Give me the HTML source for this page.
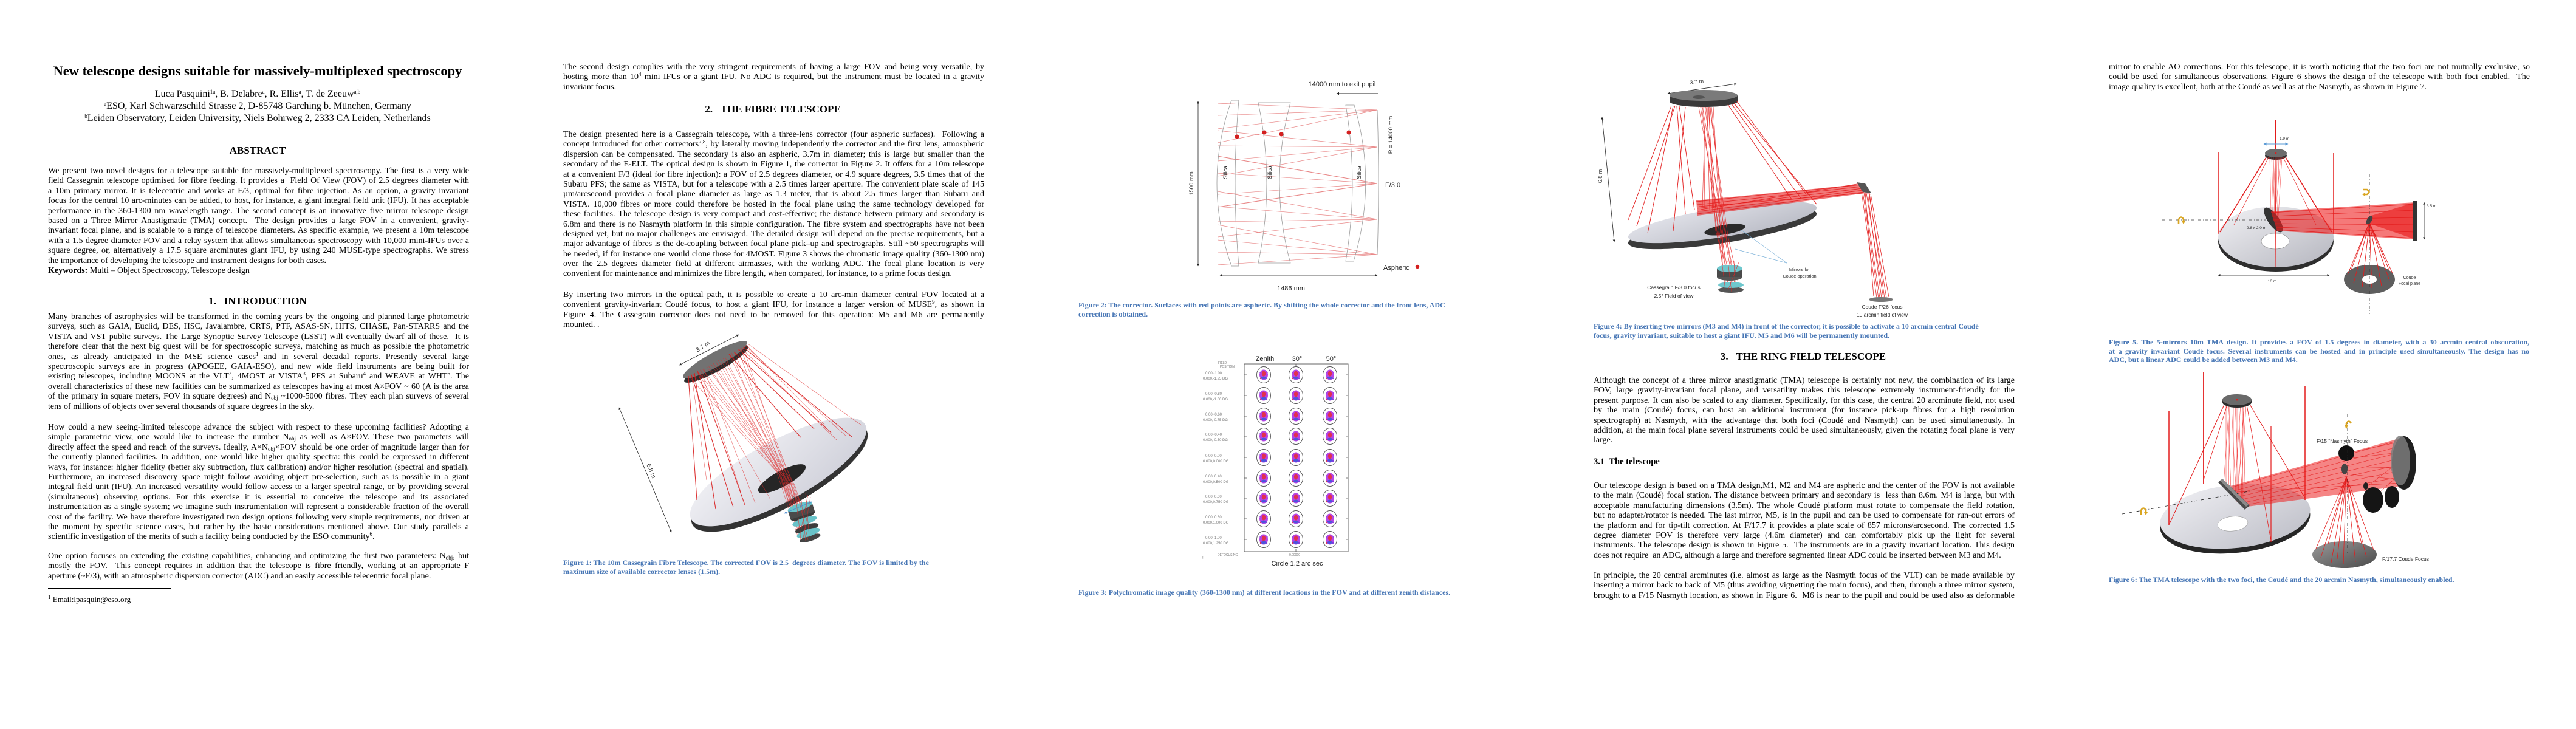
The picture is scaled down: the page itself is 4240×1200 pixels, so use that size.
<!DOCTYPE html>
<html><head><meta charset="utf-8">
<style>
*{margin:0;padding:0;box-sizing:border-box}
html,body{width:4240px;height:1200px;overflow:hidden;background:#fff}
.pg{position:absolute;top:0;width:848px;height:1200px;font-family:"Liberation Serif","Times New Roman",serif;color:#000}
.p{position:absolute;left:79px;width:693px;font-size:14px;line-height:16.4px}
.p div{height:16.4px;overflow:hidden;text-align:justify;text-align-last:justify}
.p div.e{text-align-last:left}
sup{font-size:9px;line-height:0;vertical-align:5px}
sub{font-size:9px;line-height:0;vertical-align:-2px}
.h{position:absolute;left:0;width:848px;text-align:center;font-weight:bold;font-size:17px;line-height:20px}
.cap{position:absolute;left:79px;width:720px;font-weight:bold;font-size:12px;line-height:14.6px;color:#4776b5;white-space:nowrap}
.cj{position:absolute;left:79px;width:692px;font-weight:bold;font-size:12px;line-height:14.6px;color:#4776b5}
.cj div{height:14.6px;overflow:hidden;text-align:justify;text-align-last:justify}
.cj div.e{text-align-last:left}
svg.f{position:absolute;left:0;top:0}
svg text{font-family:"Liberation Sans",sans-serif}
</style></head><body>

<!-- ================= PAGE 1 ================= -->
<div class="pg" style="left:0">
<div style="position:absolute;top:104px;left:0;width:848px;text-align:center;font-weight:bold;font-size:22.5px;line-height:26px">New telescope designs suitable for massively-multiplexed spectroscopy</div>
<div style="position:absolute;top:145px;left:0;width:848px;text-align:center;font-size:16px;line-height:20px">Luca Pasquini<sup>1a</sup>, B. Delabre<sup>a</sup>, R. Ellis<sup>a</sup>, T. de Zeeuw<sup>a,b</sup><br><sup>a</sup>ESO, Karl Schwarzschild Strasse 2, D-85748 Garching b. München, Germany<br><sup>b</sup>Leiden Observatory, Leiden University, Niels Bohrweg 2, 2333 CA Leiden, Netherlands</div>
<div class="h" style="top:238px">ABSTRACT</div>
<div class="p" style="top:274px">
<div>We present two novel designs for a telescope suitable for massively-multiplexed spectroscopy. The first is a very wide</div>
<div>field Cassegrain telescope optimised for fibre feeding. It provides a &nbsp;Field Of View (FOV) of 2.5 degrees diameter with</div>
<div>a 10m primary mirror. It is telecentric and works at F/3, optimal for fibre injection. As an option, a gravity invariant</div>
<div>focus for the central 10 arc-minutes can be added, to host, for instance, a giant integral field unit (IFU). It has acceptable</div>
<div>performance in the 360-1300 nm wavelength range. The second concept is an innovative five mirror telescope design</div>
<div>based on a Three Mirror Anastigmatic (TMA) concept. &nbsp;The design provides a large FOV in a convenient, gravity-</div>
<div>invariant focal plane, and is scalable to a range of telescope diameters. As specific example, we present a 10m telescope</div>
<div>with a 1.5 degree diameter FOV and a relay system that allows simultaneous spectroscopy with 10,000 mini-IFUs over a</div>
<div>square degree, or, alternatively a 17.5 square arcminutes giant IFU, by using 240 MUSE-type spectrographs. We stress</div>
<div class="e">the importance of developing the telescope and instrument designs for both cases<b>.</b></div>
<div class="e"><b>Keywords:</b> Multi – Object Spectroscopy, Telescope design</div>
</div>
<div class="h" style="top:486px">1.&nbsp;&nbsp;&nbsp;INTRODUCTION</div>
<div class="p" style="top:514px">
<div>Many branches of astrophysics will be transformed in the coming years by the ongoing and planned large photometric</div>
<div>surveys, such as GAIA, Euclid, DES, HSC, Javalambre, CRTS, PTF, ASAS-SN, HITS, CHASE, Pan-STARRS and the</div>
<div>VISTA and VST public surveys. The Large Synoptic Survey Telescope (LSST) will eventually dwarf all of these. &nbsp;It is</div>
<div>therefore clear that the next big quest will be for spectroscopic surveys, matching as much as possible the photometric</div>
<div>ones, as already anticipated in the MSE science cases<sup>1</sup> and in several decadal reports. Presently several large</div>
<div>spectroscopic surveys are in progress (APOGEE, GAIA-ESO), and new wide field instruments are being built for</div>
<div>existing telescopes, including MOONS at the VLT<sup>2</sup>, 4MOST at VISTA<sup>3</sup>, PFS at Subaru<sup>4</sup> and WEAVE at WHT<sup>5</sup>. The</div>
<div>overall characteristics of these new facilities can be summarized as telescopes having at most A×FOV ~ 60 (A is the area</div>
<div>of the primary in square meters, FOV in square degrees) and N<sub>obj</sub> ~1000-5000 fibres. They each plan surveys of several</div>
<div class="e">tens of millions of objects over several thousands of square degrees in the sky.</div>
</div>
<div class="p" style="top:696px">
<div>How could a new seeing-limited telescope advance the subject with respect to these upcoming facilities? Adopting a</div>
<div>simple parametric view, one would like to increase the number N<sub>obj</sub> as well as A×FOV. These two parameters will</div>
<div>directly affect the speed and reach of the surveys. Ideally, A×N<sub>obj</sub>×FOV should be one order of magnitude larger than for</div>
<div>the currently planned facilities. In addition, one would like higher quality spectra: this could be expressed in different</div>
<div>ways, for instance: higher fidelity (better sky subtraction, flux calibration) and/or higher resolution (spectral and spatial).</div>
<div>Furthermore, an increased discovery space might follow avoiding object pre-selection, such as is possible in a giant</div>
<div>integral field unit (IFU). An increased versatility would follow access to a larger spectral range, or by providing several</div>
<div>(simultaneous) observing options. For this exercise it is essential to conceive the telescope and its associated</div>
<div>instrumentation as a single system; we imagine such instrumentation will represent a considerable fraction of the overall</div>
<div>cost of the facility. We have therefore investigated two design options following very simple requirements, not driven at</div>
<div>the moment by specific science cases, but rather by the basic considerations mentioned above. Our study parallels a</div>
<div class="e">scientific investigation of the merits of such a facility being conducted by the ESO community<sup>6</sup>.</div>
</div>
<div class="p" style="top:908px">
<div>One option focuses on extending the existing capabilities, enhancing and optimizing the first two parameters: N<sub>obj</sub>, but</div>
<div>mostly the FOV. &nbsp;This concept requires in addition that the telescope is fibre friendly, working at an appropriate F</div>
<div class="e">aperture (~F/3), with an atmospheric dispersion corrector (ADC) and an easily accessible telecentric focal plane.</div>
</div>
<div style="position:absolute;left:79px;top:968px;width:203px;border-top:1px solid #000"></div>
<div style="position:absolute;left:79px;top:979px;font-size:13px;line-height:16px"><sup>1</sup> Email:lpasquin@eso.org</div>
</div>

<!-- ================= PAGE 2 ================= -->
<div class="pg" style="left:848px">
<div class="p" style="top:103px">
<div>The second design complies with the very stringent requirements of having a large FOV and being very versatile, by</div>
<div>hosting more than 10<sup>4</sup> mini IFUs or a giant IFU. No ADC is required, but the instrument must be located in a gravity</div>
<div class="e">invariant focus.</div>
</div>
<div class="h" style="top:170px">2.&nbsp;&nbsp;&nbsp;THE FIBRE TELESCOPE</div>
<div class="p" style="top:214px">
<div>The design presented here is a Cassegrain telescope, with a three-lens corrector (four aspheric surfaces). &nbsp;Following a</div>
<div>concept introduced for other correctors<sup>7,8</sup>, by laterally moving independently the corrector and the first lens, atmospheric</div>
<div>dispersion can be compensated. The secondary is also an aspheric, 3.7m in diameter; this is large but smaller than the</div>
<div>secondary of the E-ELT. The optical design is shown in Figure 1, the corrector in Figure 2. It offers for a 10m telescope</div>
<div>at a convenient F/3 (ideal for fibre injection): a FOV of 2.5 degrees diameter, or 4.9 square degrees, 3.5 times that of the</div>
<div>Subaru PFS; the same as VISTA, but for a telescope with a 2.5 times larger aperture. The convenient plate scale of 145</div>
<div>µm/arcsecond provides a focal plane diameter as large as 1.3 meter, that is about 2.5 times larger than Subaru and</div>
<div>VISTA. 10,000 fibres or more could therefore be hosted in the focal plane using the same technology developed for</div>
<div>these facilities. The telescope design is very compact and cost-effective; the distance between primary and secondary is</div>
<div>6.8m and there is no Nasmyth platform in this simple configuration. The fibre system and spectrographs have not been</div>
<div>designed yet, but no major challenges are envisaged. The detailed design will depend on the precise requirements, but a</div>
<div>major advantage of fibres is the de-coupling between focal plane pick–up and spectrographs. Still ~50 spectrographs will</div>
<div>be needed, if for instance one would clone those for 4MOST. Figure 3 shows the chromatic image quality (360-1300 nm)</div>
<div>over the 2.5 degrees diameter field at different airmasses, with the working ADC. The focal plane location is very</div>
<div class="e">convenient for maintenance and minimizes the fibre length, when compared, for instance, to a prime focus design.</div>
</div>
<div class="p" style="top:478px">
<div>By inserting two mirrors in the optical path, it is possible to create a 10 arc-min diameter central FOV located at a</div>
<div>convenient gravity-invariant Coudé focus, to host a giant IFU, for instance a larger version of MUSE<sup>9</sup>, as shown in</div>
<div>Figure 4. The Cassegrain corrector does not need to be removed for this operation: M5 and M6 are permanently</div>
<div class="e">mounted. .</div>
</div>
<svg class="f" width="848" height="1200" viewBox="0 0 848 1200">
<defs>
<marker id="a2" viewBox="0 0 10 10" refX="9" refY="5" markerWidth="5" markerHeight="5" orient="auto-start-reverse"><path d="M0,0 L10,5 L0,10 z" fill="#222"/></marker>
<marker id="b2" viewBox="0 0 10 10" refX="9" refY="5" markerWidth="5" markerHeight="5" orient="auto-start-reverse"><path d="M0,0 L10,5 L0,10 z" fill="#4a8ad0"/></marker>
<linearGradient id="g2" x1="0" y1="0" x2="1" y2="1"><stop offset="0" stop-color="#f2f2f6"/><stop offset="1" stop-color="#cdced8"/></linearGradient>
</defs>
<line x1="270" y1="601" x2="368" y2="551" stroke="#222" stroke-width="0.8" marker-start="url(#a2)" marker-end="url(#a2)"/>
<text transform="translate(300,580) rotate(-33)" font-size="10" fill="#333">3.7 m</text>
<ellipse cx="331" cy="599" rx="60" ry="12" fill="#2c2c2c" transform="rotate(-29 331 599)"/>
<ellipse cx="329" cy="592" rx="60" ry="12" fill="#727272" transform="rotate(-29 329 592)"/>
<line x1="171" y1="671" x2="257" y2="876" stroke="#222" stroke-width="0.8" marker-start="url(#a2)" marker-end="url(#a2)"/>
<text transform="translate(216,765) rotate(67)" font-size="10" fill="#333">6.8 m</text>
<ellipse cx="433" cy="777" rx="163" ry="50" fill="#333" transform="translate(2,9) rotate(-28.5 433 777)"/>
<ellipse cx="433" cy="777" rx="163" ry="50" fill="url(#g2)" transform="rotate(-28.5 433 777)"/>
<ellipse cx="439" cy="788" rx="44" ry="13" fill="#262626" transform="rotate(-28.5 439 788)"/>
<g stroke="#e02a2a" stroke-width="0.6" opacity="0.75" fill="none">
<polyline points="285,619 430,776 466,885"/><polyline points="292,615 436,782 470,887"/>
<polyline points="300,611 442,786 474,889"/><polyline points="308,607 448,790 478,888"/>
<polyline points="315,603 454,794 482,884"/><polyline points="322,599 460,798 486,880"/>
<polyline points="330,595 434,780 468,880"/><polyline points="338,591 440,784 472,886"/>
<polyline points="345,587 446,788 476,884"/><polyline points="352,583 452,792 480,886"/>
<polyline points="360,579 458,796 484,882"/><polyline points="367,575 444,787 470,882"/>
<polyline points="375,571 450,791 476,889"/><polyline points="318,602 438,786 474,884"/>
<polyline points="326,598 450,796 479,887"/><polyline points="356,581 436,778 467,884"/>
<polyline points="334,593 445,789 473,885"/><polyline points="342,589 452,790 481,883"/>
<polyline points="304,609 440,783 469,886"/><polyline points="371,573 456,795 483,887"/>
<line x1="383" y1="566" x2="570" y2="700"/><line x1="378" y1="569" x2="545" y2="718"/>
<line x1="300" y1="611" x2="420" y2="822"/><line x1="310" y1="606" x2="395" y2="828"/>
<line x1="290" y1="616" x2="315" y2="790"/><line x1="380" y1="568" x2="510" y2="700"/>
<line x1="305" y1="608" x2="372" y2="812"/><line x1="372" y1="573" x2="530" y2="725"/>
</g>
<g stroke="#d91c1c" stroke-width="1.1" opacity="0.9">
<line x1="285" y1="619" x2="299" y2="823"/><line x1="290" y1="617" x2="359" y2="835"/>
<line x1="300" y1="611" x2="378" y2="831"/><line x1="360" y1="579" x2="492" y2="706"/>
<line x1="375" y1="571" x2="554" y2="719"/><line x1="368" y1="575" x2="520" y2="712"/>
<line x1="295" y1="614" x2="330" y2="838"/><line x1="352" y1="583" x2="470" y2="720"/>
</g>
<g transform="rotate(-18 477 860)">
<ellipse cx="477" cy="848" rx="21" ry="6" fill="#3a3a3a"/>
<rect x="456" y="834" width="42" height="14" fill="#4a4a4a"/>
<ellipse cx="477" cy="833" rx="21" ry="6" fill="#69c3c9"/>
<ellipse cx="477" cy="870" rx="20" ry="6" fill="#3c3c3c"/>
<ellipse cx="477" cy="858" rx="21" ry="6" fill="#69c3c9"/>
<ellipse cx="477" cy="887" rx="18" ry="5" fill="#444"/>
<ellipse cx="477" cy="878" rx="20" ry="6" fill="#69c3c9"/>
</g>
<g stroke="#e02828" stroke-width="0.6" opacity="0.8">
<line x1="462" y1="820" x2="470" y2="888"/><line x1="470" y1="815" x2="478" y2="890"/><line x1="478" y1="812" x2="484" y2="884"/><line x1="486" y1="818" x2="474" y2="886"/>
<line x1="466" y1="818" x2="482" y2="889"/><line x1="482" y1="814" x2="468" y2="884"/>
</g>
<line x1="443" y1="845" x2="488" y2="826" stroke="#4a8ad0" stroke-width="0.8" marker-start="url(#b2)" marker-end="url(#b2)"/>
<text transform="translate(452,836) rotate(-62)" font-size="8" fill="#333">1.5 m</text>
</svg>
<div class="cap" style="top:919px">Figure 1: The 10m Cassegrain Fibre Telescope. The corrected FOV is 2.5 &nbsp;degrees diameter. The FOV is limited by the<br>maximum size of available corrector lenses (1.5m).</div>
</div>

<!-- ================= PAGE 3 ================= -->
<div class="pg" style="left:1696px">
<svg class="f" width="848" height="1200" viewBox="0 0 848 1200">
<defs>
<marker id="a3" viewBox="0 0 10 10" refX="9" refY="5" markerWidth="5" markerHeight="5" orient="auto-start-reverse"><path d="M0,0 L10,5 L0,10 z" fill="#222"/></marker>
<g id="sp">
<ellipse cx="0" cy="0" rx="11.5" ry="13.5" fill="#fff" stroke="#555" stroke-width="0.9"/>
<ellipse cx="0" cy="0" rx="7" ry="8.5" fill="#b545e6"/>
<ellipse cx="0" cy="-2" rx="3.2" ry="4.5" fill="#e2304e"/>
<ellipse cx="0" cy="5" rx="4.5" ry="2.2" fill="#3a58d8" opacity="0.85"/>
<circle cx="-5" cy="6" r="1.2" fill="#e2304e"/><circle cx="5" cy="6" r="1.2" fill="#7a3ae0"/>
<circle cx="-6" cy="-4" r="0.9" fill="#9040e0"/><circle cx="6" cy="-4" r="0.9" fill="#9040e0"/>
</g>
</defs>
<!-- Figure 2 -->
<text x="513" y="142" font-size="11" text-anchor="middle" fill="#222">14000 mm to exit pupil</text>
<line x1="572" y1="154" x2="504" y2="154" stroke="#222" stroke-width="0.9" marker-end="url(#a3)"/>
<line x1="276" y1="167" x2="276" y2="438" stroke="#222" stroke-width="0.8" marker-start="url(#a3)" marker-end="url(#a3)"/>
<text transform="translate(268,302) rotate(-90)" font-size="9.5" text-anchor="middle" fill="#222">1500 mm</text>
<g stroke="#e57373" stroke-width="0.7" opacity="0.85">
<line x1="308" y1="170" x2="571" y2="181"/><line x1="308" y1="190" x2="571" y2="181"/><line x1="308" y1="212" x2="571" y2="181"/><line x1="308" y1="235" x2="571" y2="181"/>
<line x1="308" y1="215" x2="571" y2="242"/><line x1="308" y1="240" x2="571" y2="242"/><line x1="308" y1="265" x2="571" y2="242"/><line x1="308" y1="290" x2="571" y2="242"/>
<line x1="308" y1="257" x2="571" y2="302" stroke-width="1.1"/><line x1="308" y1="285" x2="571" y2="302"/><line x1="308" y1="320" x2="571" y2="302"/><line x1="308" y1="341" x2="571" y2="302" stroke-width="1.1"/>
<line x1="308" y1="315" x2="571" y2="361"/><line x1="308" y1="340" x2="571" y2="361"/><line x1="308" y1="365" x2="571" y2="361"/><line x1="308" y1="390" x2="571" y2="361"/>
<line x1="308" y1="370" x2="571" y2="419"/><line x1="308" y1="395" x2="571" y2="419"/><line x1="308" y1="415" x2="571" y2="419"/><line x1="308" y1="436" x2="571" y2="419"/>
</g>
<g fill="none" stroke="#999" stroke-width="0.8">
<path d="M331,165 L343,165 Q331,301.5 343,438 L331,438 Q283,301.5 331,165 Z"/>
<path d="M375,169 L428,169 Q392,301 428,433 L375,433 Q403,301 375,169 Z"/>
<path d="M519,173 L533,173 Q571,301 532,430 L519,430 Q541,301 519,173 Z"/>
<path d="M571,181 Q575,300 571,419"/>
</g>
<g fill="#d42020"><circle cx="340" cy="225" r="3.5"/><circle cx="385" cy="218" r="3.5"/><circle cx="413" cy="221" r="3.5"/><circle cx="524" cy="218" r="3.5"/></g>
<g font-size="9" fill="#222" text-anchor="middle">
<text transform="translate(324,284) rotate(-90)">Silica</text>
<text transform="translate(397,284) rotate(-90)">Silica</text>
<text transform="translate(544,284) rotate(-90)">Silica</text>
</g>
<text transform="translate(596,222) rotate(-90)" font-size="9.5" text-anchor="middle" fill="#222">R = 14000 mm</text>
<text x="584" y="308" font-size="11" fill="#222">F/3.0</text>
<text x="581" y="444" font-size="11" fill="#222">Aspheric</text>
<circle cx="637" cy="439" r="3.2" fill="#d42020"/>
<line x1="312" y1="453" x2="571" y2="453" stroke="#222" stroke-width="0.8" marker-start="url(#a3)" marker-end="url(#a3)"/>
<text x="429" y="478" font-size="11" text-anchor="middle" fill="#222">1486 mm</text>
<!-- Figure 3 -->
<g font-size="11" fill="#222" text-anchor="middle"><text x="386" y="594">Zenith</text><text x="439" y="594">30°</text><text x="495" y="594">50°</text></g>
<rect x="352" y="599" width="171" height="309" fill="none" stroke="#555" stroke-width="0.9"/>
<g font-size="5" fill="#777">
<text x="309" y="599" font-family="Liberation Mono,monospace">FIELD</text>
<text x="312" y="605" font-family="Liberation Mono,monospace">POSITION</text>
</g>
<g stroke="#555" stroke-width="0.8">
<line x1="437" y1="599" x2="437" y2="603"/><line x1="437" y1="904" x2="437" y2="908"/>
<line x1="352" y1="617" x2="356" y2="617"/><line x1="352" y1="651" x2="356" y2="651"/><line x1="352" y1="685" x2="356" y2="685"/><line x1="352" y1="718" x2="356" y2="718"/><line x1="352" y1="753" x2="356" y2="753"/><line x1="352" y1="787" x2="356" y2="787"/><line x1="352" y1="820" x2="356" y2="820"/><line x1="352" y1="854" x2="356" y2="854"/><line x1="352" y1="888" x2="356" y2="888"/>
<line x1="519" y1="617" x2="523" y2="617"/><line x1="519" y1="651" x2="523" y2="651"/><line x1="519" y1="685" x2="523" y2="685"/><line x1="519" y1="718" x2="523" y2="718"/><line x1="519" y1="753" x2="523" y2="753"/><line x1="519" y1="787" x2="523" y2="787"/><line x1="519" y1="820" x2="523" y2="820"/><line x1="519" y1="854" x2="523" y2="854"/><line x1="519" y1="888" x2="523" y2="888"/>
</g>
<use href="#sp" x="384" y="617"/><use href="#sp" x="437" y="617"/><use href="#sp" x="493" y="617"/>
<use href="#sp" x="384" y="651"/><use href="#sp" x="437" y="651"/><use href="#sp" x="493" y="651"/>
<use href="#sp" x="384" y="685"/><use href="#sp" x="437" y="685"/><use href="#sp" x="493" y="685"/>
<use href="#sp" x="384" y="718"/><use href="#sp" x="437" y="718"/><use href="#sp" x="493" y="718"/>
<use href="#sp" x="384" y="753"/><use href="#sp" x="437" y="753"/><use href="#sp" x="493" y="753"/>
<use href="#sp" x="384" y="787"/><use href="#sp" x="437" y="787"/><use href="#sp" x="493" y="787"/>
<use href="#sp" x="384" y="820"/><use href="#sp" x="437" y="820"/><use href="#sp" x="493" y="820"/>
<use href="#sp" x="384" y="854"/><use href="#sp" x="437" y="854"/><use href="#sp" x="493" y="854"/>
<use href="#sp" x="384" y="888"/><use href="#sp" x="437" y="888"/><use href="#sp" x="493" y="888"/>
<g font-size="6" fill="#777">
<text x="288" y="616" font-family="Liberation Mono,monospace">0.00,-1.00</text><text x="284" y="625" font-family="Liberation Mono,monospace">0.000,-1.25 DG</text>
<text x="288" y="650" font-family="Liberation Mono,monospace">0.00,-0.80</text><text x="284" y="659" font-family="Liberation Mono,monospace">0.000,-1.00 DG</text>
<text x="288" y="684" font-family="Liberation Mono,monospace">0.00,-0.60</text><text x="284" y="693" font-family="Liberation Mono,monospace">0.000,-0.75 DG</text>
<text x="288" y="717" font-family="Liberation Mono,monospace">0.00,-0.40</text><text x="284" y="726" font-family="Liberation Mono,monospace">0.000,-0.50 DG</text>
<text x="288" y="752" font-family="Liberation Mono,monospace">0.00, 0.00</text><text x="284" y="761" font-family="Liberation Mono,monospace">0.000,0.000 DG</text>
<text x="288" y="786" font-family="Liberation Mono,monospace">0.00, 0.40</text><text x="284" y="795" font-family="Liberation Mono,monospace">0.000,0.500 DG</text>
<text x="288" y="819" font-family="Liberation Mono,monospace">0.00, 0.60</text><text x="284" y="828" font-family="Liberation Mono,monospace">0.000,0.750 DG</text>
<text x="288" y="853" font-family="Liberation Mono,monospace">0.00, 0.80</text><text x="284" y="862" font-family="Liberation Mono,monospace">0.000,1.000 DG</text>
<text x="288" y="887" font-family="Liberation Mono,monospace">0.00, 1.00</text><text x="284" y="896" font-family="Liberation Mono,monospace">0.000,1.250 DG</text>
<text x="308" y="915" font-family="Liberation Mono,monospace" font-size="5">DEFOCUSING</text>
<text x="435" y="915" font-family="Liberation Mono,monospace" font-size="5" text-anchor="middle">0.00000</text>
<text x="283" y="920" font-family="Liberation Mono,monospace">!</text>
</g>
<text x="439" y="931" font-size="11" text-anchor="middle" fill="#222">Circle 1.2 arc sec</text>
</svg>
<div class="cap" style="top:495px">Figure 2: The corrector. Surfaces with red points are aspheric. By shifting the whole corrector and the front lens, ADC<br>correction is obtained.</div>
<div class="cap" style="top:968px">Figure 3: Polychromatic image quality (360-1300 nm) at different locations in the FOV and at different zenith distances.</div>
</div>

<!-- ================= PAGE 4 ================= -->
<div class="pg" style="left:2544px">
<svg class="f" width="848" height="1200" viewBox="0 0 848 1200">
<defs>
<marker id="a4" viewBox="0 0 10 10" refX="9" refY="5" markerWidth="5" markerHeight="5" orient="auto-start-reverse"><path d="M0,0 L10,5 L0,10 z" fill="#222"/></marker>
<linearGradient id="g4" x1="0" y1="0" x2="1" y2="1"><stop offset="0" stop-color="#e4e5ec"/><stop offset="1" stop-color="#b8bac4"/></linearGradient>
</defs>
<line x1="201" y1="154" x2="314" y2="138" stroke="#222" stroke-width="0.8" marker-start="url(#a4)" marker-end="url(#a4)"/>
<text transform="translate(238,139) rotate(-8)" font-size="9" fill="#333">3.7 m</text>
<ellipse cx="260" cy="167" rx="56" ry="9" fill="#3a3a3a"/>
<rect x="204" y="157" width="112" height="10" fill="#3a3a3a"/>
<ellipse cx="260" cy="157" rx="56" ry="9" fill="#7a7a7a"/>
<ellipse cx="252" cy="160" rx="10" ry="3" fill="#555"/>
<line x1="93" y1="193" x2="113" y2="398" stroke="#222" stroke-width="0.8" marker-start="url(#a4)" marker-end="url(#a4)"/>
<text transform="translate(93,290) rotate(-90)" font-size="9" text-anchor="middle" fill="#333">6.8 m</text>
<ellipse cx="291" cy="366" rx="157" ry="24" fill="#3a3a3a" transform="translate(0,10) rotate(-9 291 366)"/>
<ellipse cx="291" cy="366" rx="157" ry="24" fill="url(#g4)" transform="rotate(-9 291 366)"/>
<ellipse cx="295" cy="378" rx="34" ry="8" fill="#2a2a2a" transform="rotate(-9 295 378)"/>
<g stroke="#e21d1d" stroke-width="1" opacity="0.95">
<line x1="207" y1="174" x2="136" y2="362"/><line x1="210" y1="174" x2="168" y2="384"/><line x1="213" y1="174" x2="150" y2="372"/>
<line x1="314" y1="166" x2="429" y2="320"/><line x1="310" y1="170" x2="446" y2="336"/><line x1="300" y1="172" x2="405" y2="328"/>
<line x1="220" y1="175" x2="245" y2="345"/><line x1="230" y1="176" x2="210" y2="380"/>
<line x1="216" y1="175" x2="230" y2="352"/><line x1="306" y1="171" x2="420" y2="326"/>
</g>
<g stroke="#e41c1c" stroke-width="0.7" opacity="0.85" fill="none">
<polyline points="252,176 290,384 300,470"/><polyline points="258,176 296,386 312,472"/>
<polyline points="264,176 284,382 296,468"/><polyline points="270,176 300,388 318,470"/>
<polyline points="276,176 288,383 306,476"/><polyline points="262,176 292,385 290,460"/>
<polyline points="268,176 280,380 304,465"/><polyline points="255,176 286,383 302,474"/>
<polyline points="273,176 294,386 309,468"/><polyline points="260,176 262,340"/><polyline points="266,176 270,345"/>
<polyline points="257,176 282,381 298,476"/><polyline points="271,176 297,387 314,474"/>
<polyline points="263,176 258,340"/><polyline points="269,176 275,348"/>
</g>
<polygon points="248,330 520,303 525,318 250,355" fill="#e81c1c" opacity="0.6"/>
<g stroke="#e21d1d" stroke-width="0.8" opacity="0.95">
<line x1="248" y1="332" x2="520" y2="304"/><line x1="250" y1="337" x2="521" y2="307"/><line x1="249" y1="343" x2="522" y2="310"/>
<line x1="251" y1="348" x2="523" y2="313"/><line x1="250" y1="352" x2="524" y2="316"/><line x1="252" y1="340" x2="522" y2="318"/><line x1="255" y1="345" x2="519" y2="302"/>
<line x1="520" y1="316" x2="545" y2="490"/><line x1="524" y1="317" x2="550" y2="490"/><line x1="528" y1="318" x2="556" y2="490"/>
<line x1="532" y1="318" x2="561" y2="490"/><line x1="535" y1="319" x2="565" y2="489"/><line x1="526" y1="316" x2="540" y2="488"/><line x1="530" y1="318" x2="553" y2="491"/>
<line x1="522" y1="316" x2="548" y2="491"/><line x1="533" y1="318" x2="558" y2="491"/>
</g>
<polygon points="512,300 526,302 536,318 522,316" fill="#555"/>
<ellipse cx="552" cy="493" rx="20" ry="4" fill="#777"/>
<ellipse cx="303" cy="456" rx="21" ry="6" fill="#555"/>
<rect x="282" y="442" width="42" height="14" fill="#4a4a4a"/>
<ellipse cx="303" cy="442" rx="21" ry="6" fill="#6ec7cd"/>
<ellipse cx="305" cy="477" rx="21" ry="5" fill="#555"/>
<ellipse cx="305" cy="469" rx="21" ry="5" fill="#6ec7cd"/>
<g stroke="#e82020" stroke-width="0.6" opacity="0.85"><line x1="290" y1="430" x2="296" y2="478"/><line x1="300" y1="430" x2="306" y2="480"/><line x1="310" y1="430" x2="312" y2="478"/><line x1="318" y1="432" x2="300" y2="478"/></g>
<g stroke="#7ab0d8" stroke-width="0.7"><line x1="397" y1="433" x2="321" y2="378"/><line x1="397" y1="433" x2="312" y2="410"/></g>
<g font-size="7.5" fill="#333" text-anchor="middle"><text x="418" y="446">Mirrors for</text><text x="418" y="457">Coude operation</text></g>
<g font-size="8.5" fill="#222" text-anchor="middle">
<text x="211" y="476">Cassegrain F/3.0 focus</text><text x="211" y="490">2.5° Field of view</text>
<text x="554" y="508">Coude F/26 focus</text><text x="554" y="521">10 arcmin field of view</text>
</g>
</svg>
<div class="cap" style="top:530px">Figure 4: By inserting two mirrors (M3 and M4) in front of the corrector, it is possible to activate a 10 arcmin central Coudé<br>focus, gravity invariant, suitable to host a giant IFU. M5 and M6 will be permanently mounted.</div>
<div class="h" style="top:577px">3.&nbsp;&nbsp;&nbsp;THE RING FIELD TELESCOPE</div>
<div class="p" style="top:619px">
<div>Although the concept of a three mirror anastigmatic (TMA) telescope is certainly not new, the combination of its large</div>
<div>FOV, large gravity-invariant focal plane, and versatility makes this telescope extremely instrument-friendly for the</div>
<div>present purpose. It can also be scaled to any diameter. Specifically, for this case, the central 20 arcminute field, not used</div>
<div>by the main (Coudé) focus, can host an additional instrument (for instance pick-up fibres for a high resolution</div>
<div>spectrograph) at Nasmyth, with the advantage that both foci (Coudé and Nasmyth) can be used simultaneously. In</div>
<div>addition, at the main focal plane several instruments could be used simultaneously, given the rotating focal plane is very</div>
<div class="e">large.</div>
</div>
<div style="position:absolute;left:79px;top:751px;font-weight:bold;font-size:14.5px;line-height:18px">3.1&nbsp;&nbsp;The telescope</div>
<div class="p" style="top:792px">
<div>Our telescope design is based on a TMA design,M1, M2 and M4 are aspheric and the center of the FOV is not available</div>
<div>to the main (Coudé) focal station. The distance between primary and secondary is &nbsp;less than 8.6m. M4 is large, but with</div>
<div>acceptable manufacturing dimensions (3.5m). The whole Coudé platform must rotate to compensate the field rotation,</div>
<div>but no adapter/rotator is needed. The last mirror, M5, is in the pupil and can be used to compensate for run-out errors of</div>
<div>the platform and for tip-tilt correction. At F/17.7 it provides a plate scale of 857 microns/arcsecond. The corrected 1.5</div>
<div>degree diameter FOV is therefore very large (4.6m diameter) and can comfortably pick up the light for several</div>
<div>instruments. The telescope design is shown in Figure 5. &nbsp;The instruments are in a gravity invariant location. This design</div>
<div class="e">does not require &nbsp;an ADC, although a large and therefore segmented linear ADC could be inserted between M3 and M4.</div>
</div>
<div class="p" style="top:940px">
<div>In principle, the 20 central arcminutes (i.e. almost as large as the Nasmyth focus of the VLT) can be made available by</div>
<div>inserting a mirror back to back of M5 (thus avoiding vignetting the main focus), and then, through a three mirror system,</div>
<div>brought to a F/15 Nasmyth location, as shown in Figure 6. &nbsp;M6 is near to the pupil and could be used also as deformable</div>
</div>
</div>

<!-- ================= PAGE 5 ================= -->
<div class="pg" style="left:3392px">
<div class="p" style="top:103px">
<div>mirror to enable AO corrections. For this telescope, it is worth noticing that the two foci are not mutually exclusive, so</div>
<div>could be used for simultaneous observations. Figure 6 shows the design of the telescope with both foci enabled. &nbsp;The</div>
<div class="e">image quality is excellent, both at the Coudé as well as at the Nasmyth, as shown in Figure 7.</div>
</div>
<svg class="f" width="848" height="1200" viewBox="0 0 848 1200">
<defs>
<marker id="a5" viewBox="0 0 10 10" refX="9" refY="5" markerWidth="5" markerHeight="5" orient="auto-start-reverse"><path d="M0,0 L10,5 L0,10 z" fill="#222"/></marker>
<marker id="b5" viewBox="0 0 10 10" refX="9" refY="5" markerWidth="5" markerHeight="5" orient="auto-start-reverse"><path d="M0,0 L10,5 L0,10 z" fill="#5b9bd5"/></marker>
<linearGradient id="g5" x1="0" y1="0" x2="1" y2="1"><stop offset="0" stop-color="#f2f2f5"/><stop offset="1" stop-color="#b4b5be"/></linearGradient>
<linearGradient id="g6" x1="0" y1="0" x2="1" y2="1"><stop offset="0" stop-color="#f0f0f4"/><stop offset="1" stop-color="#bcbdc6"/></linearGradient>
<linearGradient id="g7" x1="0" y1="0" x2="1" y2="1"><stop offset="0" stop-color="#9a9a9a"/><stop offset="1" stop-color="#4a4a4a"/></linearGradient>
</defs>
<!-- Figure 5 -->
<line x1="354" y1="198" x2="354" y2="250" stroke="#e31b1b" stroke-width="2"/>
<text x="360" y="230" font-size="6.5" fill="#333">1.9 m</text>
<line x1="334" y1="237" x2="374" y2="237" stroke="#5b9bd5" stroke-width="1" marker-start="url(#b5)" marker-end="url(#b5)"/>
<line x1="259" y1="250" x2="259" y2="385" stroke="#e31b1b" stroke-width="1.5"/>
<line x1="449" y1="252" x2="449" y2="385" stroke="#e31b1b" stroke-width="1.5"/>
<ellipse cx="354" cy="397" rx="95" ry="50" fill="#2e2e2e"/>
<ellipse cx="354" cy="390" rx="95" ry="50" fill="url(#g5)"/>
<ellipse cx="353" cy="397" rx="23" ry="13" fill="#fff" stroke="#888" stroke-width="0.6"/>
<ellipse cx="354" cy="256" rx="18" ry="7" fill="#2f2f2f"/>
<ellipse cx="354" cy="252" rx="18" ry="7" fill="#6b6b6b"/>
<circle cx="354" cy="252" r="1.3" fill="#e31b1b"/>
<g stroke="#e31b1b">
<line x1="338" y1="259" x2="262" y2="382" stroke-width="1.5"/><line x1="370" y1="259" x2="446" y2="382" stroke-width="1.5"/>
<line x1="342" y1="259" x2="285" y2="370" stroke-width="0.7"/><line x1="366" y1="259" x2="420" y2="370" stroke-width="0.7"/>
<line x1="354" y1="262" x2="353" y2="440" stroke-width="1"/>
</g>
<g stroke="#f03030" stroke-width="0.6" opacity="0.8">
<line x1="344" y1="259" x2="346" y2="348"/><line x1="347" y1="259" x2="350" y2="352"/><line x1="350" y1="259" x2="352" y2="358"/><line x1="353" y1="259" x2="348" y2="364"/>
<line x1="356" y1="259" x2="354" y2="368"/><line x1="359" y1="259" x2="356" y2="372"/><line x1="362" y1="259" x2="351" y2="376"/><line x1="364" y1="259" x2="358" y2="355"/>
</g>
<ellipse cx="350" cy="362" rx="9" ry="24" fill="#333" transform="rotate(-35 350 362)"/>
<polygon points="346,348 583,333 583,394 356,380" fill="#ee2020" opacity="0.6"/>
<polygon points="508,356 583,333 583,394 508,368" fill="#e81818" opacity="0.6"/>
<g stroke="#e31b1b" stroke-width="0.7">
<line x1="346" y1="350" x2="582" y2="336"/><line x1="348" y1="356" x2="582" y2="346"/><line x1="350" y1="362" x2="582" y2="358"/>
<line x1="352" y1="368" x2="582" y2="370"/><line x1="354" y1="374" x2="582" y2="382"/><line x1="356" y1="378" x2="582" y2="392"/>
</g>
<rect x="579" y="331" width="8" height="65" fill="#333"/>
<line x1="598" y1="333" x2="598" y2="394" stroke="#222" stroke-width="0.8" marker-start="url(#a5)" marker-end="url(#a5)"/>
<text x="602" y="341" font-size="6.5" fill="#333">3.5 m</text>
<ellipse cx="508" cy="460" rx="42" ry="24" fill="#5e5e5e"/>
<g stroke="#e31b1b" stroke-width="0.9">
<line x1="508" y1="366" x2="472" y2="452"/><line x1="508" y1="366" x2="482" y2="466"/><line x1="508" y1="366" x2="496" y2="473"/><line x1="508" y1="366" x2="512" y2="474"/>
<line x1="508" y1="366" x2="528" y2="471"/><line x1="508" y1="366" x2="541" y2="462"/><line x1="508" y1="366" x2="546" y2="450"/><line x1="508" y1="366" x2="478" y2="444"/><line x1="508" y1="366" x2="540" y2="444"/>
</g>
<ellipse cx="508" cy="460" rx="12" ry="7" fill="#fff"/>
<ellipse cx="508" cy="362" rx="4" ry="8" fill="#444" transform="rotate(30 508 362)"/>
<line x1="508" y1="287" x2="508" y2="517" stroke="#333" stroke-width="0.8" stroke-dasharray="5,3,1,3"/>
<line x1="166" y1="362" x2="338" y2="362" stroke="#333" stroke-width="0.8" stroke-dasharray="5,3,1,3"/>
<path d="M194,368 L194,361 Q198,354 202,361 L202,366" fill="none" stroke="#d9a521" stroke-width="2.6"/>
<path d="M199,364 L202,369 L205,364 Z" fill="#d9a521"/>
<g transform="rotate(90 503 316)"><path d="M499,322 L499,315 Q503,308 507,315 L507,320" fill="none" stroke="#d9a521" stroke-width="2.6"/><path d="M504,318 L507,323 L510,318 Z" fill="#d9a521"/></g>
<line x1="259" y1="453" x2="442" y2="453" stroke="#222" stroke-width="0.8" marker-start="url(#a5)" marker-end="url(#a5)"/>
<text x="348" y="465" font-size="6.5" text-anchor="middle" fill="#333">10 m</text>
<text x="322" y="377" font-size="6.5" text-anchor="middle" fill="#333">2.8 x 2.0 m</text>
<text x="574" y="459" font-size="7" text-anchor="middle" fill="#333">Coude</text>
<text x="574" y="469" font-size="7" text-anchor="middle" fill="#333">Focal plane</text>
<!-- Figure 6 -->
<ellipse cx="287" cy="850" rx="124" ry="52" fill="#262626" transform="translate(0,8) rotate(-6 287 850)"/>
<ellipse cx="287" cy="850" rx="124" ry="52" fill="url(#g6)" transform="rotate(-6 287 850)"/>
<ellipse cx="283" cy="862" rx="25" ry="12" fill="#fff" stroke="#999" stroke-width="0.6" transform="rotate(-6 283 862)"/>
<g stroke="#e31b1b">
<line x1="235" y1="612" x2="235" y2="796" stroke-width="1.8"/><line x1="178" y1="677" x2="178" y2="865" stroke-width="1.5"/>
<line x1="402" y1="635" x2="402" y2="823" stroke-width="1.5"/><line x1="346" y1="702" x2="346" y2="892" stroke-width="1.2"/>
<line x1="270" y1="664" x2="179" y2="862" stroke-width="1"/><line x1="310" y1="664" x2="402" y2="820" stroke-width="1"/>
<line x1="274" y1="666" x2="235" y2="790" stroke-width="0.8"/><line x1="306" y1="666" x2="346" y2="890" stroke-width="0.8"/>
</g>
<g stroke="#f02828" stroke-width="0.6" opacity="0.85">
<line x1="272" y1="666" x2="272" y2="800"/><line x1="275" y1="666" x2="280" y2="806"/><line x1="278" y1="666" x2="276" y2="812"/><line x1="281" y1="666" x2="288" y2="816"/>
<line x1="284" y1="666" x2="284" y2="820"/><line x1="287" y1="666" x2="294" y2="824"/><line x1="290" y1="666" x2="290" y2="826"/><line x1="293" y1="666" x2="298" y2="828"/>
<line x1="296" y1="666" x2="286" y2="812"/><line x1="299" y1="666" x2="300" y2="830"/><line x1="302" y1="666" x2="292" y2="808"/><line x1="305" y1="666" x2="296" y2="818"/>
<line x1="277" y1="666" x2="268" y2="798"/><line x1="300" y1="666" x2="304" y2="832"/>
</g>
<ellipse cx="290" cy="662" rx="24" ry="9" fill="#2c2c2c"/>
<rect x="266" y="658" width="48" height="4" fill="#2c2c2c"/>
<ellipse cx="290" cy="658" rx="24" ry="9" fill="#6a6a6a"/>
<circle cx="290" cy="658" r="1.5" fill="#e31b1b"/>
<polygon points="280,800 556,722 560,800 300,835" fill="#ec2020" opacity="0.55"/>
<g stroke="#e31b1b" stroke-width="0.6" opacity="0.9">
<line x1="282" y1="802" x2="556" y2="725"/><line x1="285" y1="808" x2="557" y2="735"/><line x1="288" y1="813" x2="558" y2="745"/><line x1="291" y1="818" x2="558" y2="755"/>
<line x1="294" y1="823" x2="559" y2="765"/><line x1="297" y1="828" x2="559" y2="775"/><line x1="300" y1="832" x2="560" y2="785"/><line x1="290" y1="810" x2="560" y2="795"/>
<line x1="555" y1="728" x2="470" y2="746"/><line x1="556" y1="745" x2="470" y2="755"/><line x1="558" y1="770" x2="468" y2="768"/><line x1="559" y1="790" x2="470" y2="780"/>
<line x1="557" y1="760" x2="505" y2="800"/><line x1="558" y1="780" x2="520" y2="815"/>
</g>
<polygon points="259,794 266,788 311,832 303,839" fill="#4a4a4a"/>
<polygon points="262,791 266,788 309,831 305,834" fill="#8a8a8a"/>
<ellipse cx="565" cy="762" rx="20" ry="44" fill="#1f1f1f"/>
<ellipse cx="559" cy="758" rx="16" ry="41" fill="#7c7c7c" opacity="0.85"/>
<ellipse cx="467" cy="913" rx="53" ry="22" fill="url(#g7)"/>
<g stroke="#e31b1b" stroke-width="0.8">
<line x1="470" y1="785" x2="420" y2="903"/><line x1="470" y1="785" x2="428" y2="918"/><line x1="470" y1="785" x2="445" y2="926"/><line x1="470" y1="785" x2="465" y2="928"/>
<line x1="470" y1="785" x2="485" y2="925"/><line x1="470" y1="785" x2="503" y2="917"/><line x1="470" y1="785" x2="515" y2="905"/><line x1="470" y1="785" x2="440" y2="895"/>
<line x1="470" y1="785" x2="495" y2="895"/><line x1="470" y1="785" x2="455" y2="920"/>
</g>
<circle cx="470" cy="746" r="13" fill="#111"/>
<ellipse cx="467" cy="772" rx="5" ry="9" fill="#444"/>
<ellipse cx="514" cy="823" rx="17" ry="21" fill="#151515"/>
<ellipse cx="545" cy="818" rx="12" ry="18" fill="#151515"/>
<ellipse cx="502" cy="800" rx="4" ry="6" fill="#222"/>
<line x1="101" y1="846" x2="315" y2="808" stroke="#222" stroke-width="0.8" stroke-dasharray="5,3,1,3"/>
<line x1="472" y1="681" x2="472" y2="911" stroke="#222" stroke-width="0.8" stroke-dasharray="5,3,1,3"/>
<path d="M132,847 L132,840 Q136,833 140,840 L140,845" fill="none" stroke="#d9a521" stroke-width="2.6"/>
<path d="M137,843 L140,848 L143,843 Z" fill="#d9a521"/>
<path d="M470,704 L470,697 Q474,690 478,697" fill="none" stroke="#d9a521" stroke-width="2.6"/>
<path d="M467,700 L470,706 L473,700 Z" fill="#d9a521"/>
<text x="421" y="729" font-size="8.5" fill="#222">F/15 “Nasmyth” Focus</text>
<text x="529" y="923" font-size="8.5" fill="#222">F/17.7 Coude Focus</text>
</svg>
<div class="cj" style="top:556px">
<div>Figure 5. The 5-mirrors 10m TMA design. It provides a FOV of 1.5 degrees in diameter, with a 30 arcmin central obscuration,</div>
<div>at a gravity invariant Coudé focus. Several instruments can be hosted and in principle used simultaneously. The design has no</div>
<div class="e">ADC, but a linear ADC could be added between M3 and M4.</div>
</div>
<div class="cap" style="top:947px">Figure 6: The TMA telescope with the two foci, the Coudé and the 20 arcmin Nasmyth, simultaneously enabled.</div>
</div>

</body></html>
